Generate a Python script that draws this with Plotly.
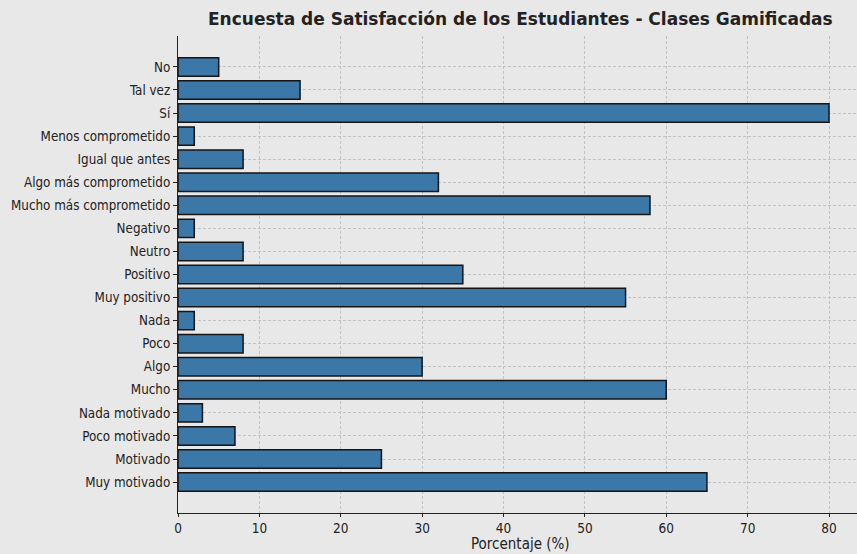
import plotly.graph_objects as go

# Survey categories (bottom to top) and their percentages
categories = [
    "Muy motivado", "Motivado", "Poco motivado", "Nada motivado",
    "Mucho", "Algo", "Poco", "Nada",
    "Muy positivo", "Positivo", "Neutro", "Negativo",
    "Mucho más comprometido", "Algo más comprometido", "Igual que antes", "Menos comprometido",
    "Sí", "Tal vez", "No",
]
percentages = [65, 25, 7, 3, 60, 30, 8, 2, 55, 35, 8, 2, 58, 32, 8, 2, 80, 15, 5]

x_ticks = [0, 10, 20, 30, 40, 50, 60, 70, 80]

W, H = 857, 554
left, top, bottom = 178, 36, 41
px_per_unit = 651 / 80.0
x_max = (W - left) / px_per_unit

COND = "DejaVu Sans Condensed, DejaVu Sans"
INK = "#222222"

fig = go.Figure(
    go.Bar(
        x=percentages,
        y=list(range(len(categories))),
        orientation="h",
        width=0.8,
        marker=dict(color="#3b77a7", line=dict(color="#151515", width=1.5)),
        hoverinfo="x+y",
    )
)

grid = dict(showgrid=True, gridcolor="#c2c2c2", griddash="3px,2px", gridwidth=0.8)

fig.update_layout(
    width=W,
    height=H,
    margin=dict(l=left, r=0, t=top, b=bottom),
    paper_bgcolor="#e8e8e8",
    plot_bgcolor="#e8e8e8",
    showlegend=False,
    xaxis=dict(
        range=[0, x_max],
        tickvals=x_ticks,
        ticktext=[str(v) for v in x_ticks],
        **grid,
        showline=True,
        linecolor=INK,
        linewidth=1.2,
        ticks="outside",
        ticklen=3,
        tickcolor=INK,
        tickfont=dict(family=COND, size=13.5, color=INK),
        zeroline=False,
        layer="above traces",
    ),
    yaxis=dict(
        range=[-1.34, len(categories) - 1 + 1.34],
        tickvals=list(range(len(categories))),
        ticktext=categories,
        **grid,
        showline=True,
        linecolor=INK,
        linewidth=1.2,
        ticks="outside",
        ticklen=4,
        tickcolor=INK,
        tickfont=dict(family=COND, size=13.3, color=INK),
        zeroline=False,
        layer="above traces",
    ),
    annotations=[
        dict(
            text="<b>Encuesta de Satisfacción de los Estudiantes - Clases Gamificadas</b>",
            xref="paper", yref="paper",
            x=(520 - left) / (W - left), y=1,
            xanchor="center", yanchor="bottom", yshift=5,
            showarrow=False,
            font=dict(family="DejaVu Sans", size=17, color=INK),
        ),
        dict(
            text="Porcentaje (%)",
            xref="paper", yref="paper",
            x=(520 - left) / (W - left), y=0,
            xanchor="center", yanchor="bottom", yshift=-bottom,
            borderpad=0,
            showarrow=False,
            font=dict(family=COND, size=15, color=INK),
        ),
    ],
)

fig.write_html("out.html")
